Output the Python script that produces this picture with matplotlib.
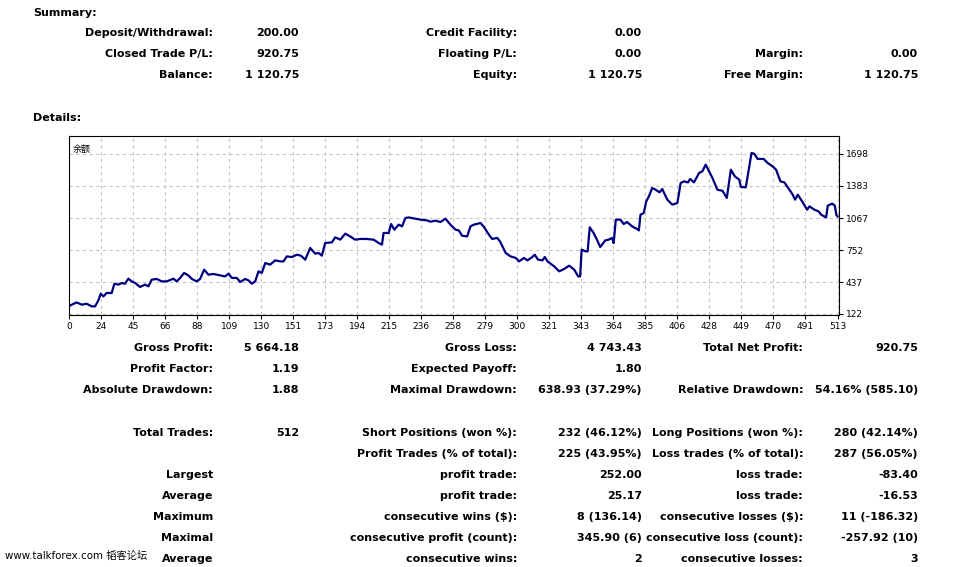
import matplotlib
matplotlib.use("Agg")
import matplotlib.pyplot as plt

plt.rcParams['font.family'] = ['DejaVu Sans', 'Noto Sans CJK SC']

trade_no = [0, 5, 8.5, 11.8, 15.1, 17.4, 19.6, 21.2, 22.9, 25.2, 28.5, 30.3, 33, 35.2, 37.4,
            39.6, 41.9, 44.1, 47.4, 50.8, 53, 55.2, 58.6, 61.9, 65.3, 69.7, 71.9, 74.2, 76.8,
            79.7, 82, 85.3, 87.5, 90.2, 93.1, 96.4, 100.9, 104.2, 106.5, 108.7, 112, 114.3,
            117.6, 119.8, 122, 124.3, 126.5, 128.7, 131, 134.3, 137.6, 141, 143.2, 145.4,
            148.8, 152.1, 154.8, 157.7, 161, 164.4, 166.6, 168.8, 171, 175.5, 177.7, 181.1,
            184.4, 187.7, 191, 194.4, 198.4, 203.4, 206.7, 208.9, 210, 213.4, 215, 217.2,
            220.1, 222.3, 224.6, 226.8, 230.1, 234.6, 239, 241.3, 244.6, 248, 251.3, 254.6,
            258, 260.2, 262.4, 265.8, 268, 270.3, 274.7, 277, 280.3, 282.5, 285.9, 287.7,
            291.5, 294.8, 298.2, 300.4, 303.7, 306, 309.3, 310.9, 313.1, 316, 317.6, 319.4,
            323.9, 327.2, 330.5, 333.9, 337.3, 339.9, 341.2, 342.2, 344.7, 346.2, 347.6,
            350.2, 352.4, 354.6, 355.8, 358, 360.2, 362.5, 363.6, 365, 368.1, 370.3, 372.5,
            375.9, 379.2, 380.4, 381.5, 383.7, 385.3, 387.1, 389.3, 391.6, 394.2, 396,
            399.4, 402.7, 406.1, 408.3, 410.5, 413.2, 414.6, 417.2, 420.6, 422.8, 425,
            427.3, 429.5, 432.8, 436.2, 439.1, 441.8, 444.5, 447.4, 448.5, 451.8, 455.6,
            457.4, 459.7, 463.7, 466.4, 469.7, 472, 474.9, 477.5, 480.9, 483.1, 484.7,
            486.5, 489.8, 492.7, 494.3, 497.6, 500.3, 502.1, 505.4, 506.5, 509.5, 511.2,
            512.2, 513]
balance = [200, 236, 214, 223, 197, 197, 256, 322, 295, 329, 329, 420, 411, 427, 420,
           470, 443, 427, 388, 411, 394, 460, 467, 443, 443, 470, 443, 477, 526,
           502, 467, 443, 467, 558, 509, 516, 502, 492, 519, 477, 477, 437,
           467, 453, 420, 443, 542, 526, 624, 608, 650, 640, 640, 689,
           683, 706, 696, 657, 772, 716, 723, 696, 821, 827, 877, 854,
           913, 886, 854, 861, 861, 854, 821, 805, 920, 920, 1008, 952,
           1002, 985, 1068, 1073, 1064, 1051, 1044, 1031, 1041, 1028, 1061, 1002,
           952, 945, 893, 886, 985, 1002, 1018, 979, 903, 861, 871, 837,
           723, 689, 674, 640, 674, 650, 683, 706, 657, 650, 683, 640,
           591, 542, 565, 598, 558, 492, 492, 755, 739, 739, 975,
           920, 854, 782, 805, 847, 854, 871, 821, 1051, 1051, 1008, 1028,
           985, 959, 945, 1100, 1117, 1231, 1280, 1363, 1346, 1320, 1353,
           1248, 1199, 1215, 1412, 1428, 1418, 1452, 1418, 1511, 1527, 1593,
           1527, 1462, 1346, 1336, 1265, 1543, 1477, 1445, 1373, 1370, 1708,
           1700, 1649, 1649, 1609, 1576, 1543, 1428, 1418, 1346, 1297, 1248,
           1297, 1221, 1149, 1182, 1149, 1133, 1100, 1073, 1189, 1209, 1189,
           1100, 1083]

x_labels = ['0', '24', '45', '66', '88', '109', '130', '151', '173', '194', '215', '236',
            '258', '279', '300', '321', '343', '364', '385', '406', '428', '449', '470',
            '491', '513']
y_ticks = [122, 437, 752, 1067, 1383, 1698]

summary_rows = [
    ("Deposit/Withdrawal:", "200.00", "Credit Facility:", "0.00", "", ""),
    ("Closed Trade P/L:", "920.75", "Floating P/L:", "0.00", "Margin:", "0.00"),
    ("Balance:", "1 120.75", "Equity:", "1 120.75", "Free Margin:", "1 120.75"),
]
detail_rows = [
    ("Gross Profit:", "5 664.18", "Gross Loss:", "4 743.43", "Total Net Profit:", "920.75"),
    ("Profit Factor:", "1.19", "Expected Payoff:", "1.80", "", ""),
    ("Absolute Drawdown:", "1.88", "Maximal Drawdown:", "638.93 (37.29%)",
     "Relative Drawdown:", "54.16% (585.10)"),
]
trade_rows = [
    ("Total Trades:", "512", "Short Positions (won %):", "232 (46.12%)",
     "Long Positions (won %):", "280 (42.14%)"),
    ("", "", "Profit Trades (% of total):", "225 (43.95%)",
     "Loss trades (% of total):", "287 (56.05%)"),
    ("Largest", "", "profit trade:", "252.00", "loss trade:", "-83.40"),
    ("Average", "", "profit trade:", "25.17", "loss trade:", "-16.53"),
    ("Maximum", "", "consecutive wins ($):", "8 (136.14)",
     "consecutive losses ($):", "11 (-186.32)"),
    ("Maximal", "", "consecutive profit (count):", "345.90 (6)",
     "consecutive loss (count):", "-257.92 (10)"),
    ("Average", "", "consecutive wins:", "2", "consecutive losses:", "3"),
]

W, H = 960, 567
fig = plt.figure(figsize=(W / 100, H / 100), dpi=100)
fs = 8


def put(x, y, s, ha="right", bold=True, size=fs):
    fig.text(x / W, 1 - y / H, s, ha=ha, va="center", fontsize=size,
             fontweight="bold" if bold else "normal", color="black")


col_x = [213, 299, 517, 642, 803, 918]


def table(rows, y0, step=21):
    for i, row in enumerate(rows):
        for x, s in zip(col_x, row):
            if s:
                put(x, y0 + i * step, s)


put(33, 13, "Summary:", ha="left")
table(summary_rows, 33)
put(33, 118, "Details:", ha="left")
table(detail_rows, 348)
table(trade_rows, 433)
fig.text(5 / W, 1 - 556 / H, "www.talkforex.com 韬客论坛", ha="left", va="center",
         fontsize=7.4, family=['DejaVu Sans', 'Noto Sans CJK SC'])

# chart
ax = fig.add_axes([69 / W, 1 - 315 / H, 770 / W, 179 / H])
ax.plot(trade_no, balance, color="#000080", lw=1.6)
ax.set_xlim(0, 514)
ax.set_ylim(112, 1875)
step = 513 / 24
ax.set_xticks([i * step for i in range(len(x_labels))])
ax.set_xticklabels(x_labels)
ax.set_yticks(y_ticks)
ax.yaxis.tick_right()
ax.tick_params(labelsize=6.5, length=3, width=0.8, pad=2)
ax.grid(True, color="#c4c4c4", ls=(0, (3, 3)), lw=0.8)
for sp in ax.spines.values():
    sp.set_color("black")
    sp.set_linewidth(0.8)
ax.text(0.005, 0.95, "余额", transform=ax.transAxes, fontsize=6.5, va="top", ha="left",
        family=['Noto Sans CJK SC', 'DejaVu Sans'])

fig.savefig("out.png", dpi=100)
